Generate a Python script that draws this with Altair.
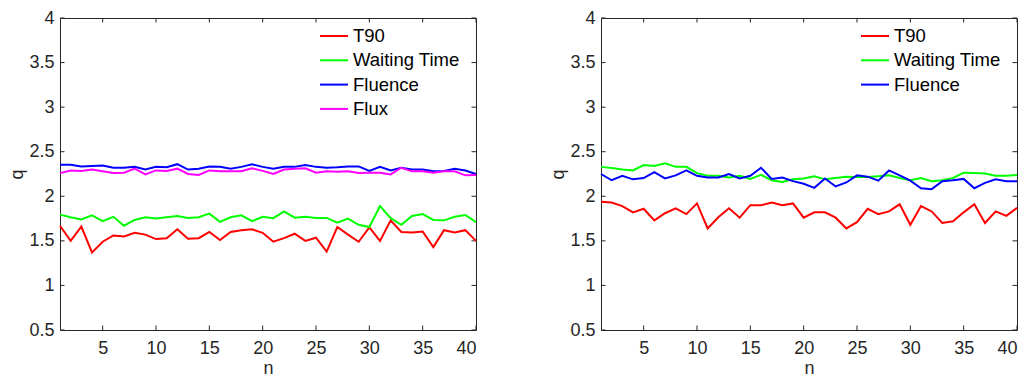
import altair as alt
import pandas as pd

n_values = list(range(1, 41))
x_ticks = [5, 10, 15, 20, 25, 30, 35, 40]
y_ticks = [0.5, 1, 1.5, 2, 2.5, 3, 3.5, 4]

series_left = ["T90", "Waiting Time", "Fluence", "Flux"]
series_right = ["T90", "Waiting Time", "Fluence"]
colors_left = ["#ff0000", "#00ff00", "#0000ff", "#ff00ff"]
colors_right = ["#ff0000", "#00ff00", "#0000ff"]

left_t90 = [1.67, 1.50, 1.66, 1.37, 1.49, 1.56, 1.55, 1.59, 1.57, 1.52,
            1.53, 1.63, 1.525, 1.53, 1.60, 1.51, 1.60, 1.62, 1.63, 1.59,
            1.49, 1.53, 1.58, 1.50, 1.535, 1.38, 1.655, 1.57, 1.49, 1.65,
            1.50, 1.73, 1.60, 1.595, 1.605, 1.43, 1.62, 1.595, 1.62, 1.50]
left_wait = [1.794, 1.765, 1.74, 1.787, 1.72, 1.77, 1.67, 1.735, 1.765, 1.75,
             1.765, 1.78, 1.757, 1.765, 1.805, 1.713, 1.765, 1.787, 1.72, 1.77,
             1.755, 1.83, 1.76, 1.77, 1.757, 1.757, 1.705, 1.75, 1.68, 1.655,
             1.89, 1.755, 1.68, 1.78, 1.80, 1.735, 1.73, 1.77, 1.79, 1.71]
left_fluence = [2.353, 2.353, 2.335, 2.34, 2.345, 2.32, 2.32, 2.33, 2.30, 2.33,
                2.325, 2.36, 2.30, 2.31, 2.335, 2.33, 2.31, 2.33, 2.36, 2.33,
                2.31, 2.33, 2.33, 2.35, 2.33, 2.32, 2.325, 2.335, 2.335, 2.285,
                2.33, 2.29, 2.32, 2.30, 2.30, 2.28, 2.285, 2.31, 2.29, 2.25]
left_flux = [2.26, 2.29, 2.285, 2.30, 2.28, 2.26, 2.265, 2.31, 2.245, 2.29,
             2.285, 2.31, 2.25, 2.24, 2.29, 2.28, 2.28, 2.28, 2.315, 2.285,
             2.25, 2.30, 2.31, 2.315, 2.265, 2.28, 2.275, 2.28, 2.26, 2.265,
             2.265, 2.245, 2.32, 2.28, 2.28, 2.265, 2.28, 2.28, 2.235, 2.24]

right_t90 = [1.94, 1.93, 1.89, 1.82, 1.86, 1.73, 1.81, 1.865, 1.80, 1.92,
             1.64, 1.765, 1.865, 1.76, 1.90, 1.90, 1.93, 1.90, 1.92, 1.76,
             1.82, 1.82, 1.76, 1.64, 1.71, 1.86, 1.80, 1.83, 1.91, 1.68,
             1.89, 1.83, 1.70, 1.72, 1.82, 1.91, 1.70, 1.83, 1.78, 1.87]
right_wait = [2.33, 2.316, 2.30, 2.29, 2.35, 2.34, 2.37, 2.33, 2.33, 2.26,
              2.23, 2.23, 2.21, 2.23, 2.195, 2.24, 2.18, 2.16, 2.19, 2.20,
              2.225, 2.19, 2.205, 2.22, 2.215, 2.215, 2.225, 2.235, 2.205, 2.18,
              2.205, 2.17, 2.18, 2.205, 2.265, 2.26, 2.255, 2.23, 2.23, 2.24]
right_fluence = [2.25, 2.18, 2.23, 2.19, 2.205, 2.27, 2.20, 2.235, 2.29, 2.23,
                 2.21, 2.21, 2.25, 2.20, 2.23, 2.32, 2.195, 2.21, 2.17, 2.14,
                 2.095, 2.20, 2.11, 2.155, 2.235, 2.22, 2.175, 2.29, 2.235, 2.175,
                 2.09, 2.08, 2.17, 2.18, 2.195, 2.09, 2.15, 2.19, 2.17, 2.17]

W, H = 416, 312
INK = "#262626"
FONT = "Liberation Sans"
TICK = 4.5


def make_df(names, arrays):
    rows = []
    for name, arr in zip(names, arrays):
        for i, v in zip(n_values, arr):
            rows.append({"n": i, "q": v, "series": name})
    return pd.DataFrame(rows)


def panel(names, arrays, colors):
    df = make_df(names, arrays)
    x = alt.X("n:Q", scale=alt.Scale(domain=[1, 40], nice=False, zero=False),
              axis=alt.Axis(values=x_ticks, format="d", title="n"))
    y = alt.Y("q:Q", scale=alt.Scale(domain=[0.5, 4], nice=False, zero=False),
              axis=alt.Axis(values=y_ticks, format="~g", title="q"))
    lines = alt.Chart(df).mark_line(strokeWidth=2).encode(
        x=x, y=y,
        color=alt.Color("series:N", sort=names,
                        scale=alt.Scale(domain=names, range=colors),
                        legend=alt.Legend(
                            title=None, orient="none", legendX=263, legendY=7,
                            symbolType="M-1.4,0H1.4", symbolSize=400,
                            symbolStrokeWidth=2, labelFont=FONT,
                            labelFontSize=18.5, labelColor="#000000",
                            labelOffset=8, rowPadding=3.3, padding=0)),
    )
    xt = pd.DataFrame({"n": x_ticks})
    yt = pd.DataFrame({"q": y_ticks})
    rule = dict(color=INK, strokeWidth=1)
    xb = alt.Chart(xt).mark_rule(**rule).encode(x=x, y=alt.value(H), y2=alt.value(H - TICK))
    xtp = alt.Chart(xt).mark_rule(**rule).encode(x=x, y=alt.value(0), y2=alt.value(TICK))
    yl = alt.Chart(yt).mark_rule(**rule).encode(y=y, x=alt.value(0), x2=alt.value(TICK))
    yr = alt.Chart(yt).mark_rule(**rule).encode(y=y, x=alt.value(W), x2=alt.value(W - TICK))
    return alt.layer(xb, xtp, yl, yr, lines).properties(width=W, height=H)


left = panel(series_left, [left_t90, left_wait, left_fluence, left_flux], colors_left)
right = panel(series_right, [right_t90, right_wait, right_fluence], colors_right)

chart = alt.hconcat(left, right, spacing=68).resolve_scale(color="independent").properties(
    padding={"left": 0, "top": 0, "right": 0, "bottom": 0}
).configure_view(stroke=INK, strokeWidth=1).configure_axis(
    domain=False, ticks=False, tickSize=0, grid=False,
    labelFont=FONT, labelFontSize=18, labelColor=INK,
    titleFont=FONT, titleFontSize=18, titleFontWeight="normal", titleColor=INK,
).configure_axisX(labelPadding=9, titlePadding=2).configure_axisY(
    labelPadding=6, titlePadding=2
)

chart.save("out.html", embed_options={"renderer": "svg", "actions": False})
